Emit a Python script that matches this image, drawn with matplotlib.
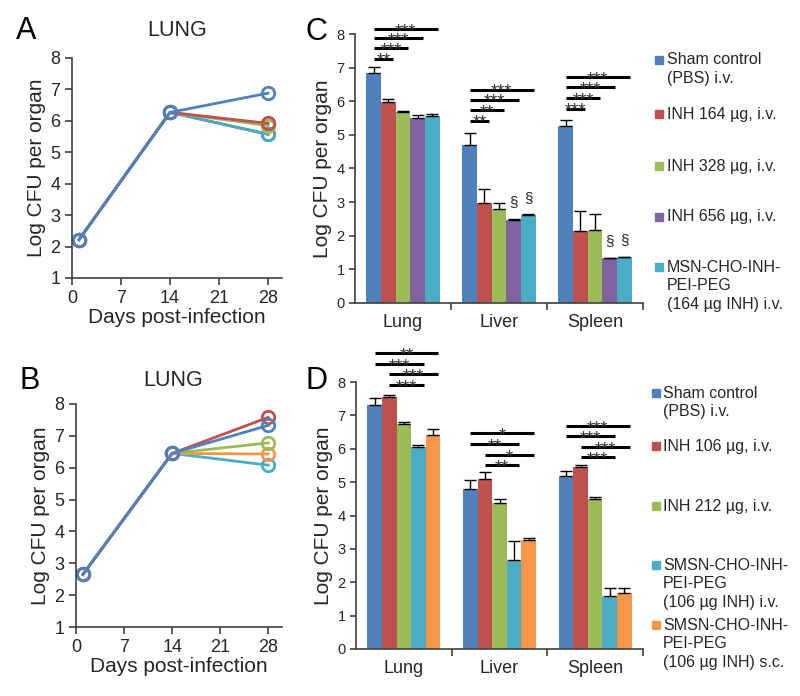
import numpy as np
import matplotlib.pyplot as plt
from matplotlib.patches import Rectangle

plt.rcParams['font.family'] = ['Liberation Sans', 'DejaVu Sans']

W, H = 800, 696
TXT = '#262626'
AX = '#404040'

# Colours (Excel-style palette)
BLUE, RED, GREEN, PURPLE, CYAN, ORANGE = ('#4F81BD', '#C0504D', '#9BBB59',
                                          '#8064A2', '#4BACC6', '#F79646')

# Panel A / B: lung time course
days = [1, 14, 28]
a_sham = [2.22, 6.27, 6.88]
a_inh164 = [2.22, 6.27, 5.92]
a_inh328 = [2.22, 6.27, 5.85]
a_inh656 = [2.22, 6.27, 5.57]
a_msn = [2.22, 6.27, 5.58]

b_sham = [2.65, 6.45, 7.33]
b_inh106 = [2.65, 6.45, 7.58]
b_inh212 = [2.65, 6.45, 6.78]
b_smsn_iv = [2.65, 6.45, 6.08]
b_smsn_sc = [2.65, 6.45, 6.43]

# Panel C / D: organ burdens at day 28
organs = ['Lung', 'Liver', 'Spleen']

c_vals = [[6.83, 4.70, 5.25],
          [5.98, 2.98, 2.15],
          [5.68, 2.80, 2.18],
          [5.50, 2.48, 1.33],
          [5.55, 2.62, 1.37]]
c_errs = [[0.20, 0.36, 0.18],
          [0.08, 0.40, 0.60],
          [0.02, 0.17, 0.47],
          [0.10, 0.03, 0.01],
          [0.06, 0.02, 0.01]]
c_labels = ['Sham control\n(PBS) i.v.', 'INH 164 µg, i.v.', 'INH 328 µg, i.v.',
            'INH 656 µg, i.v.', 'MSN-CHO-INH-\nPEI-PEG\n(164 µg INH) i.v.']
c_colors = [BLUE, RED, GREEN, PURPLE, CYAN]

d_vals = [[7.30, 4.80, 5.18],
          [7.55, 5.08, 5.45],
          [6.75, 4.38, 4.48],
          [6.05, 2.68, 1.58],
          [6.42, 3.28, 1.67]]
d_errs = [[0.23, 0.26, 0.15],
          [0.06, 0.22, 0.05],
          [0.04, 0.12, 0.08],
          [0.06, 0.56, 0.25],
          [0.17, 0.06, 0.17]]
d_labels = ['Sham control\n(PBS) i.v.', 'INH 106 µg, i.v.', 'INH 212 µg, i.v.',
            'SMSN-CHO-INH-\nPEI-PEG\n(106 µg INH) i.v.',
            'SMSN-CHO-INH-\nPEI-PEG\n(106 µg INH) s.c.']
d_colors = [BLUE, RED, GREEN, CYAN, ORANGE]

# significance brackets: (organ, from bar, to bar, height, stars)
c_sig = [(0, 0, 4, 8.15, '***'), (0, 0, 3, 7.87, '***'), (0, 0, 2, 7.57, '***'), (0, 0, 1, 7.27, '**'),
         (1, 0, 4, 6.34, '***'), (1, 0, 3, 6.04, '***'), (1, 0, 2, 5.74, '**'), (1, 0, 1, 5.42, '**'),
         (2, 0, 4, 6.72, '***'), (2, 0, 3, 6.42, '***'), (2, 0, 2, 6.09, '***'), (2, 0, 1, 5.78, '***')]
c_section = [(1, 3), (1, 4), (2, 3), (2, 4)]

d_sig = [(0, 0, 4, 8.86, '**'), (0, 0, 3, 8.53, '***'), (0, 1, 4, 8.23, '***'), (0, 1, 3, 7.90, '***'),
         (1, 0, 4, 6.47, '*'), (1, 0, 3, 6.14, '**'), (1, 1, 4, 5.80, '*'), (1, 1, 3, 5.50, '**'),
         (2, 0, 4, 6.68, '***'), (2, 0, 3, 6.37, '***'), (2, 1, 4, 6.05, '***'), (2, 1, 3, 5.74, '***')]

fig = plt.figure(figsize=(W / 100, H / 100), dpi=100)


def px_axes(left, top, right, bottom):
    return fig.add_axes([left / W, 1 - bottom / H, (right - left) / W, (bottom - top) / H])


def style(ax):
    for s in ['top', 'right']:
        ax.spines[s].set_visible(False)
    for s in ['left', 'bottom']:
        ax.spines[s].set_color(AX)
        ax.spines[s].set_linewidth(1.2)
    ax.tick_params(direction='out', color=AX, labelcolor=TXT, width=1.2)


def line_panel(ax, series):
    for y, col in series:
        ax.plot(days, y, color=col, lw=2, marker='o', ms=9, mfc='none', mew=2)
    ax.set_xlim(0, 30)
    ax.set_ylim(1, 8)
    ax.set_xticks([0, 7, 14, 21, 28])
    ax.set_yticks(range(1, 9))
    style(ax)
    ax.tick_params(labelsize=13, length=5)
    ax.set_xlabel('Days post-infection', fontsize=15, color=TXT, labelpad=1)
    ax.set_ylabel('Log CFU per organ', fontsize=15, color=TXT, labelpad=3)


def bar_panel(ax, vals, errs, colors, sig, sections=()):
    w = 0.153
    x = np.arange(len(organs))
    for i, (v, e, col) in enumerate(zip(vals, errs, colors)):
        xs = x + (i - 2) * w
        ax.bar(xs, v, width=w, color=col, zorder=2)
        ax.errorbar(xs, v, yerr=[np.zeros(len(e)), e], fmt='none', ecolor='black',
                    elinewidth=1, capsize=4, capthick=1, zorder=3)
    for g, i0, i1, yy, stars in sig:
        x0 = g + (i0 - 2) * w
        x1 = g + (i1 - 2) * w + 0.35 * w
        ax.plot([x0, x1], [yy, yy], color='black', lw=2.2, clip_on=False,
                solid_capstyle='butt')
        ax.text((x0 + x1) / 2, yy - 0.21, stars, ha='center', va='baseline',
                fontsize=13, color='#333333', clip_on=False)
    for g, i in sections:
        top = vals[i][g] + errs[i][g]
        ax.text(g + (i - 2) * w, top + 0.28, '§', ha='center', va='bottom',
                fontsize=11, color=TXT)
    ax.set_xlim(-0.5, 2.5)
    ax.set_ylim(0, 8)
    ax.set_yticks(range(0, 9))
    ax.set_xticks(x)
    ax.set_xticklabels(organs)
    ax.set_xticks([0.5, 1.5, 2.5], minor=True)
    style(ax)
    ax.tick_params(axis='y', labelsize=10.5, length=4)
    ax.tick_params(axis='x', which='major', length=0, labelsize=13, pad=8)
    ax.tick_params(axis='x', which='minor', length=5, direction='out', color=AX, width=1.2)
    ax.set_ylabel('Log CFU per organ', fontsize=15, color=TXT, labelpad=3)


def legend(labels, colors, x_sq, x_txt, ys, step):
    for lab, col, y0 in zip(labels, colors, ys):
        fig.add_artist(Rectangle((x_sq / W, 1 - (y0 + 4) / H), 8 / W, 8 / H,
                                 color=col, transform=fig.transFigure))
        for k, line in enumerate(lab.split('\n')):
            fig.text(x_txt / W, 1 - (y0 + k * step) / H, line, ha='left', va='center',
                     fontsize=11.5, color=TXT)


ax_a = px_axes(72, 58, 282, 278)
line_panel(ax_a, [(a_inh656, PURPLE), (a_msn, CYAN), (a_inh328, GREEN),
                  (a_inh164, RED), (a_sham, BLUE)])

ax_b = px_axes(76, 404, 282, 627)
line_panel(ax_b, [(b_smsn_iv, CYAN), (b_smsn_sc, ORANGE), (b_inh212, GREEN),
                  (b_inh106, RED), (b_sham, BLUE)])

ax_c = px_axes(355, 34, 643, 303)
bar_panel(ax_c, c_vals, c_errs, c_colors, c_sig, c_section)

ax_d = px_axes(356, 382, 643, 649)
bar_panel(ax_d, d_vals, d_errs, d_colors, d_sig)

legend(c_labels, c_colors, 655, 667, [60, 114, 166, 217, 267], 19)
legend(d_labels, d_colors, 652, 663, [393, 446, 506, 565, 625], 18.5)

# titles and panel letters
fig.text(177 / W, 1 - 31 / H, 'LUNG', ha='center', va='center', fontsize=15.5, color=TXT)
fig.text(173 / W, 1 - 381 / H, 'LUNG', ha='center', va='center', fontsize=15.5, color=TXT)
for letter, (px, py) in zip('ABCD', [(26, 31), (30, 381), (316, 32), (316, 381)]):
    fig.text(px / W, 1 - py / H, letter, ha='center', va='center', fontsize=22, color='black')

fig.savefig('out.png', dpi=100)
